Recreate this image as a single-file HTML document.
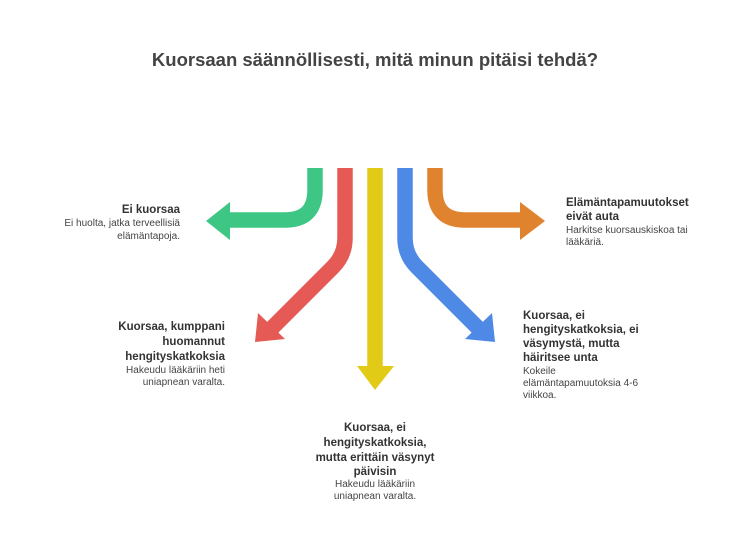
<!DOCTYPE html>
<html><head><meta charset="utf-8"><style>
html,body{margin:0;padding:0;background:#fff;}
svg{display:block;font-family:"Liberation Sans",sans-serif;}
.b{font-weight:bold;font-size:11.5px;fill:#333;}
.n{font-size:10px;fill:#444;}
</style></head><body>
<svg width="750" height="548" viewBox="0 0 750 548">
<text x="375" y="66" text-anchor="middle" font-size="18.5" font-weight="bold" fill="#444">Kuorsaan säännöllisesti, mitä minun pitäisi tehdä?</text>
<g fill="none" stroke-width="15.5">
<path d="M315 168 V190 Q315 220 285 220 H228" stroke="#3ec684"/>
<path d="M435 168 V190 Q435 220 465 220 H522" stroke="#e0832f"/>
<path d="M375 168 V368" stroke="#e1cb16"/>
<path d="M345 168 V238 Q345 255 333 267 L268 332" stroke="#e55a55"/>
<path d="M405 168 V238 Q405 255 417 267 L482 332" stroke="#4e89e5"/>
</g>
<polygon points="230,202 230,240 206,221" fill="#3ec684"/>
<polygon points="520,202 520,240 545,221" fill="#e0832f"/>
<polygon points="357,366 394,366 375,390" fill="#e1cb16"/>
<polygon points="258,313 285,339 255,342" fill="#e55a55"/>
<polygon points="492,313 465,339 495,342" fill="#4e89e5"/>
<g text-anchor="end">
<text x="180" y="213" class="b">Ei kuorsaa</text>
<text x="180" y="226" class="n">Ei huolta, jatka terveellisiä</text>
<text x="180" y="239" class="n">elämäntapoja.</text>
<text x="225" y="330" class="b">Kuorsaa, kumppani</text>
<text x="225" y="345" class="b">huomannut</text>
<text x="225" y="360" class="b">hengityskatkoksia</text>
<text x="225" y="373" class="n">Hakeudu lääkäriin heti</text>
<text x="225" y="385" class="n">uniapnean varalta.</text>
</g>
<g text-anchor="middle">
<text x="375" y="431" class="b">Kuorsaa, ei</text>
<text x="375" y="446" class="b">hengityskatkoksia,</text>
<text x="375" y="461" class="b">mutta erittäin väsynyt</text>
<text x="375" y="475" class="b">päivisin</text>
<text x="375" y="487" class="n">Hakeudu lääkäriin</text>
<text x="375" y="499" class="n">uniapnean varalta.</text>
</g>
<text x="566" y="206" class="b">Elämäntapamuutokset</text>
<text x="566" y="220" class="b">eivät auta</text>
<text x="566" y="233" class="n">Harkitse kuorsauskiskoa tai</text>
<text x="566" y="245" class="n">lääkäriä.</text>
<text x="523" y="319" class="b">Kuorsaa, ei</text>
<text x="523" y="333" class="b">hengityskatkoksia, ei</text>
<text x="523" y="347" class="b">väsymystä, mutta</text>
<text x="523" y="361" class="b">häiritsee unta</text>
<text x="523" y="374" class="n">Kokeile</text>
<text x="523" y="386" class="n">elämäntapamuutoksia 4-6</text>
<text x="523" y="398" class="n">viikkoa.</text>
</svg>
</body></html>
